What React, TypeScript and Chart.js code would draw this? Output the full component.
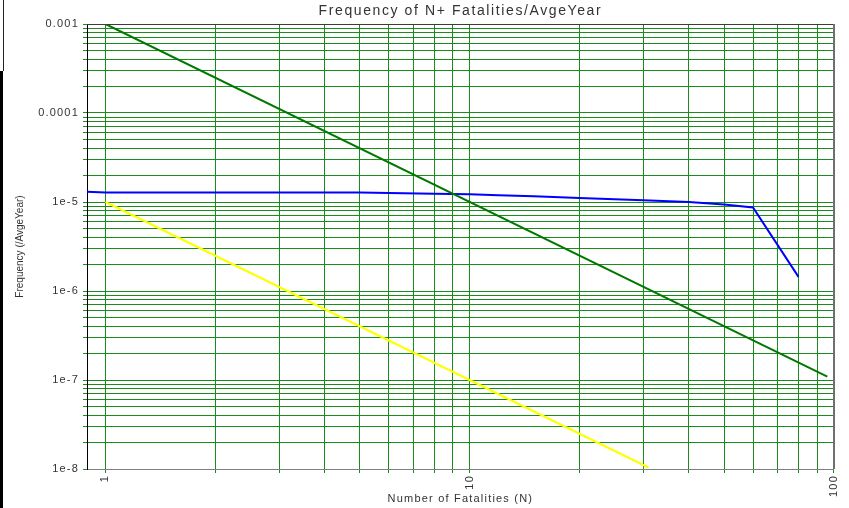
import React, { useEffect, useRef } from 'react';
import { Chart, registerables } from 'chart.js';

Chart.register(...registerables);

// ---- axis ranges and tick labels ----
const X_MIN = 0.89;
const X_MAX = 100;
const Y_MIN = 1e-8;
const Y_MAX = 1e-3;

const X_GRID_VALUES = [1, 2, 3, 4, 5, 6, 7, 8, 9, 10, 20, 30, 40, 50, 60, 70, 80, 90, 100];
const X_LABEL_VALUES = [1, 10, 100];
const X_LABELS = ['1', '10', '100'];

const Y_DECADES = [1e-8, 1e-7, 1e-6, 1e-5, 1e-4, 1e-3];
const Y_LABELS = ['1e-8', '1e-7', '1e-6', '1e-5', '0.0001', '0.001'];
const Y_MULTIPLES = [1, 2, 3, 4, 5, 6, 7, 8, 9];

// ---- series ----
const greenN = [1, 96];
const greenF = [1e-3, 1.09e-7];

const yellowN = [1, 31];
const yellowF = [1e-5, 1.04e-8];

const blueN = [0.89, 1, 5, 6, 8, 10, 12, 15, 17, 20, 30, 40, 50, 60, 80];
const blueF = [1.3e-5, 1.275e-5, 1.275e-5, 1.26e-5, 1.24e-5, 1.22e-5, 1.19e-5, 1.16e-5, 1.14e-5, 1.11e-5, 1.045e-5, 1.0e-5, 9.4e-6, 8.7e-6, 1.44e-6];

const FONT = '"Liberation Sans", Arial, sans-serif';
const TEXT_COLOR = '#333333';
const GRID_COLOR = '#1a8c1a';
const SPACING_BY_SIZE: Record<number, number> = { 14: 1.6, 11: 1.2 };

const near = (a: number, b: number) => Math.abs(a - b) <= Math.abs(b) * 1e-6;

const wrapped = new WeakSet<object>();

const spacingPlugin = {
  id: 'letterSpacing',
  beforeInit(chart: any) {
    const ctx: any = chart.ctx;
    if (wrapped.has(ctx)) return;
    wrapped.add(ctx);
    const orig = ctx.fillText;
    ctx.fillText = function (t: string, x: number, y: number, mw?: number) {
      const m = /(\d+(?:\.\d+)?)px/.exec(ctx.font);
      const size = m ? parseFloat(m[1]) : 0;
      const ls = SPACING_BY_SIZE[size] ?? 0;
      const has = 'letterSpacing' in ctx;
      const prev = has ? ctx.letterSpacing : null;
      if (has) ctx.letterSpacing = ls + 'px';
      if (mw === undefined || mw === null) orig.call(ctx, t, x, y);
      else orig.call(ctx, t, x, y, mw);
      if (has) ctx.letterSpacing = prev;
    };
  },
};

const framePlugin = {
  id: 'frame',
  afterDraw(chart: any) {
    const { ctx, chartArea } = chart;
    const { left, top, right, bottom } = chartArea;
    ctx.save();
    ctx.strokeStyle = '#3c3c3c';
    ctx.lineWidth = 1;
    ctx.beginPath();
    ctx.moveTo(left, Math.round(top) + 0.5);
    ctx.lineTo(right, Math.round(top) + 0.5);
    ctx.stroke();
    ctx.strokeStyle = '#707070';
    ctx.lineWidth = 2;
    ctx.beginPath();
    ctx.moveTo(Math.round(right), top);
    ctx.lineTo(Math.round(right), bottom);
    ctx.stroke();
    // outer window edge at the left
    ctx.fillStyle = '#000000';
    ctx.fillRect(0, 71, 3, chart.height - 71);
    ctx.fillStyle = '#222222';
    ctx.fillRect(3, 0, 1, 71);
    ctx.restore();
  },
};

export default function App() {
  const ref = useRef<HTMLCanvasElement | null>(null);

  useEffect(() => {
    document.body.style.margin = '0';
    document.body.style.background = '#ffffff';
    if (!ref.current) return;

    const toPts = (xs: number[], ys: number[]) => xs.map((x, i) => ({ x, y: ys[i] }));

    const chart = new Chart(ref.current, {
      type: 'scatter',
      data: {
        datasets: [
          {
            label: 'Green',
            data: toPts(greenN, greenF),
            showLine: true,
            borderColor: '#007800',
            backgroundColor: '#007800',
            borderWidth: 2,
            pointRadius: 0,
          },
          {
            label: 'Blue',
            data: toPts(blueN, blueF),
            showLine: true,
            borderColor: '#0000ff',
            backgroundColor: '#0000ff',
            borderWidth: 2,
            pointRadius: 0,
          },
          {
            label: 'Yellow',
            data: toPts(yellowN, yellowF),
            showLine: true,
            borderColor: '#ffff00',
            backgroundColor: '#ffff00',
            borderWidth: 2,
            pointRadius: 0,
          },
        ],
      },
      options: {
        responsive: false,
        animation: false,
        layout: { padding: { left: 0, right: 11, top: 0, bottom: 0 } },
        plugins: {
          legend: { display: false },
          tooltip: { enabled: false },
          title: {
            display: true,
            text: 'Frequency of N+ Fatalities/AvgeYear',
            fullSize: false,
            color: TEXT_COLOR,
            font: { family: FONT, size: 14, weight: 'normal' },
            padding: { top: 3, bottom: 4.2 },
          },
        },
        scales: {
          x: {
            type: 'logarithmic',
            min: X_MIN,
            max: X_MAX,
            position: 'bottom',
            afterBuildTicks: (s: any) => {
              s.ticks = X_GRID_VALUES.map((v) => ({ value: v, major: false }));
            },
            afterFit: (s: any) => {
              s.height = 39;
            },
            grid: { color: GRID_COLOR, tickColor: GRID_COLOR, lineWidth: 1, tickWidth: 1, tickLength: 4, drawTicks: true },
            border: { color: '#808080', width: 1 },
            ticks: {
              autoSkip: false,
              minRotation: 90,
              maxRotation: 90,
              padding: 2,
              color: TEXT_COLOR,
              font: { family: FONT, size: 11 },
              callback: (v: any) => {
                const i = X_LABEL_VALUES.findIndex((d) => near(Number(v), d));
                return i >= 0 ? X_LABELS[i] : '';
              },
            },
            title: {
              display: true,
              text: 'Number of Fatalities (N)',
              color: TEXT_COLOR,
              font: { family: FONT, size: 11 },
              padding: { top: 0, bottom: 2 },
            },
          },
          y: {
            type: 'logarithmic',
            min: Y_MIN,
            max: Y_MAX,
            afterBuildTicks: (s: any) => {
              const t: { value: number; major: boolean }[] = [];
              for (let i = 0; i < Y_DECADES.length - 1; i++) {
                for (const m of Y_MULTIPLES) t.push({ value: m * Y_DECADES[i], major: false });
              }
              t.push({ value: Y_DECADES[Y_DECADES.length - 1], major: false });
              s.ticks = t;
            },
            afterFit: (s: any) => {
              s.width = 87;
            },
            grid: { color: GRID_COLOR, tickColor: GRID_COLOR, lineWidth: 1, tickWidth: 1, tickLength: 4, drawTicks: true },
            border: { color: '#000000', width: 1 },
            ticks: {
              autoSkip: false,
              padding: 4,
              color: TEXT_COLOR,
              font: { family: FONT, size: 11 },
              callback: (v: any) => {
                const i = Y_DECADES.findIndex((d) => near(Number(v), d));
                return i >= 0 ? Y_LABELS[i] : '';
              },
            },
            title: {
              display: true,
              text: 'Frequency (/AvgeYear)',
              color: TEXT_COLOR,
              font: { family: FONT, size: 10 },
              padding: { top: 14, bottom: 0 },
            },
          },
        },
      },
      plugins: [spacingPlugin, framePlugin],
    } as any);

    return () => chart.destroy();
  }, []);

  return (
    <div style={{ width: 849, height: 508, position: 'relative', background: '#fff' }}>
      <canvas ref={ref} width={849} height={508} style={{ display: 'block' }} />
    </div>
  );
}
